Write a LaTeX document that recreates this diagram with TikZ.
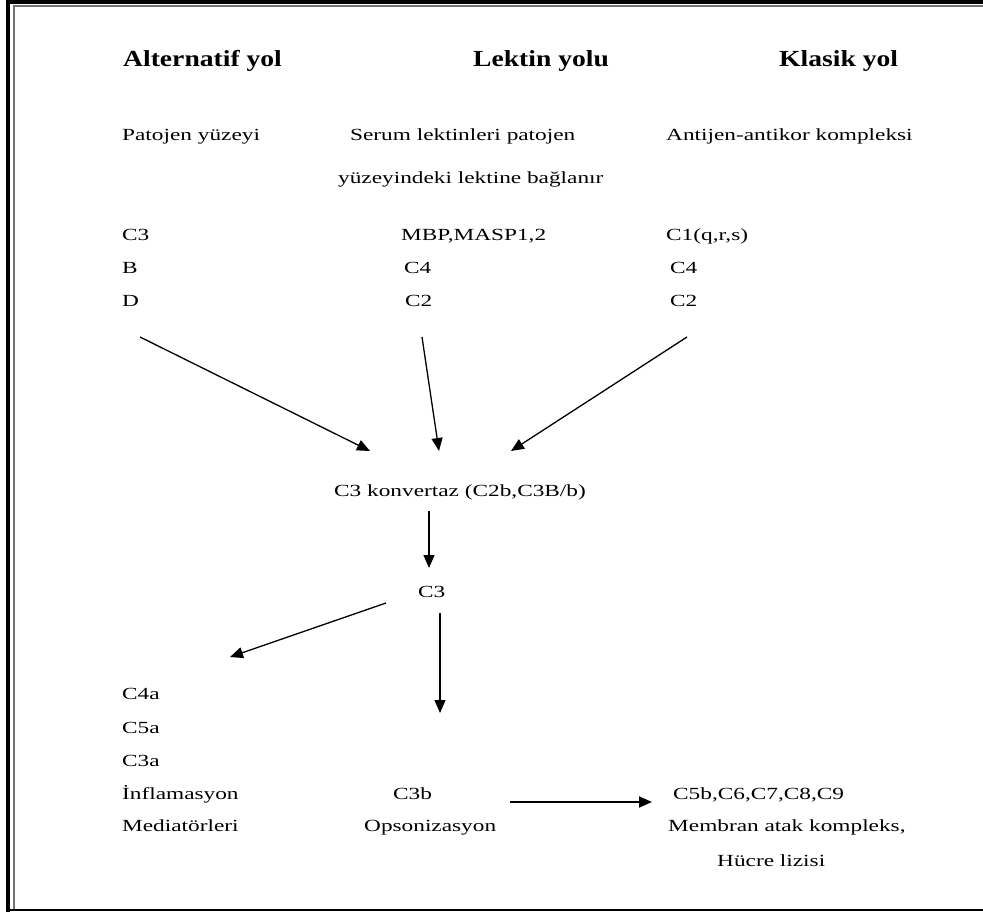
\documentclass[tikz,border=0pt]{standalone}
\usepackage{fontspec}
\setmainfont{Liberation Serif}[FakeStretch=1.37]
\newfontfamily\headfont{Liberation Serif}[FakeStretch=1.2]
\usetikzlibrary{arrows.meta}
\tikzset{>={Triangle[length=13pt,width=11pt]},
  every node/.style={inner sep=0pt,anchor=base west,font=\fontsize{17}{20}\selectfont},
  head/.style={font=\headfont\bfseries\fontsize{23}{26}\selectfont},
  flow/.style={->,line width=1.3pt},
  outerframe/.style={draw=black,line width=4pt},
  innerframe/.style={draw=black!55,line width=1.8pt}}

\begin{document}
\begin{tikzpicture}[x=1pt,y=-1pt]
\useasboundingbox (0,0) rectangle (983,912);
% frame, cut off on the right
\draw[outerframe] (8,912)--(8,1.7)--(983,1.7);
\draw[innerframe] (13.7,909)--(13.7,5.7)--(983,5.7);
\draw[line width=2pt] (10,910.3)--(983,910.3);
% three pathways
\node[head] (hAlt) at (123,67) {Alternatif yol};
\node[head] (hLek) at (473,67) {Lektin yolu};
\node[head] (hKla) at (779,67) {Klasik yol};
\node (patAlt) at (122,141) {Patojen yüzeyi};
\node (serumA) at (350,141) {Serum lektinleri patojen};
\node (serumB) at (338,184) {yüzeyindeki lektine bağlanır};
\node (antiKla) at (666,141) {Antijen-antikor kompleksi};
\node (altC3) at (122,241) {C3};
\node (altB) at (122,274) {B};
\node (altD) at (122,306) {D};
\node (lekMBP) at (401,241) {MBP,MASP1,2};
\node (lekC4) at (404,274) {C4};
\node (lekC2) at (405,306) {C2};
\node (klaC1) at (666,241) {C1(q,r,s)};
\node (klaC4) at (670,274) {C4};
\node (klaC2) at (670,306) {C2};
% common part
\node (konv) at (334,496) {C3 konvertaz (C2b,C3B/b)};
\node (cThree) at (418,597) {C3};
\node (c4a) at (122,699) {C4a};
\node (c5a) at (122,733) {C5a};
\node (c3a) at (122,766) {C3a};
\node (infl) at (122,799) {İnflamasyon};
\node (med) at (122,831) {Mediatörleri};
\node (c3b) at (393,799) {C3b};
\node (ops) at (364,831) {Opsonizasyon};
\node (mac) at (673,799) {C5b,C6,C7,C8,C9};
\node (memb) at (668,831) {Membran atak kompleks,};
\node (lizis) at (717,866) {Hücre lizisi};
% arrow ends
\coordinate (altOut) at (140,337);
\coordinate (lekOut) at (422,337);
\coordinate (klaOut) at (687,337);
\coordinate (konvInL) at (370,451);
\coordinate (konvInM) at (439,451);
\coordinate (konvInR) at (511,451);
\coordinate (konvOut) at (429,511);
\coordinate (cThreeIn) at (429,568);
\coordinate (cThreeL) at (386,603);
\coordinate (cThreeD) at (440,613);
\coordinate (aTip) at (230,657);
\coordinate (bTip) at (440,713);
\coordinate (opsOut) at (510,802);
\coordinate (macIn) at (652,802);
\draw[flow] (altOut)--(konvInL);
\draw[flow] (lekOut)--(konvInM);
\draw[flow] (klaOut)--(konvInR);
\draw[flow] (konvOut)--(cThreeIn);
\draw[flow] (cThreeL)--(aTip);
\draw[flow] (cThreeD)--(bTip);
\draw[flow,line width=2pt] (opsOut)--(macIn);
\end{tikzpicture}
\end{document}
